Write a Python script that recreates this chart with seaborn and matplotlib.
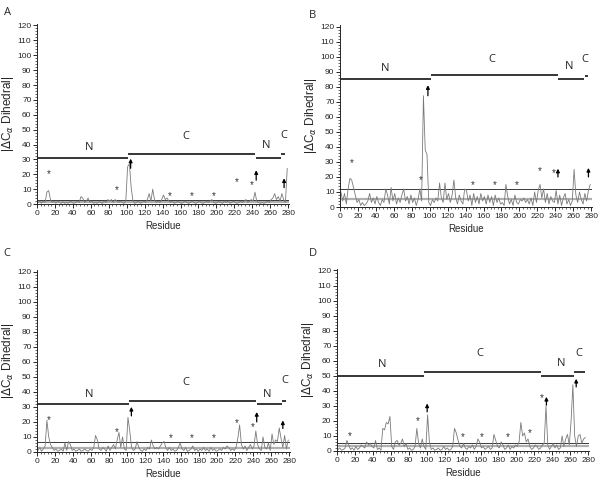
import numpy as np
import pandas as pd
import matplotlib
matplotlib.use("Agg")
import matplotlib.pyplot as plt
import seaborn as sns
from matplotlib.ticker import MultipleLocator

sns.set_style("ticks")
plt.rcParams['font.family'] = ['Liberation Sans', 'DejaVu Sans']

residues = list(range(1, 280, 2))

vals_a = [1, 2, 0.5, 2, 1, 8, 9, 3, 1, 2, 0.5, 2, 1, 0.5, 1.5, 0.5, 1, 0.5, 2, 1,
          0.5, 1, 2, 1, 5, 4, 1, 2, 4, 1, 2, 0.5, 1, 0.5, 1.5, 1, 0.5, 2, 1, 3,
          2, 3, 1, 3, 2, 1, 2, 1, 0.5, 2, 25, 27, 11, 2, 0.5, 1, 2, 0.5, 1, 2,
          1, 3, 7, 2, 10, 3, 1, 2, 1, 3, 6, 3, 4, 2, 1, 2, 0.5, 1, 2, 1,
          0.5, 1, 2, 1, 0.5, 1, 2, 1, 0.5, 1, 2, 1, 0.5, 1, 2, 1, 2, 3, 1, 0.5,
          1, 2, 1, 0.5, 2, 1, 2, 0.5, 1, 2, 1, 0.5, 1, 2, 1, 2, 3, 1, 2, 3,
          2, 8, 2, 1, 0.5, 1, 0.5, 1, 2, 1, 3, 4, 7, 3, 5, 2, 7, 3, 1, 24]

vals_b = [10, 4, 9, 2, 12, 19, 18, 13, 8, 3, 5, 1, 3, 1, 2, 4, 9, 3, 6, 2,
          7, 3, 1, 5, 3, 12, 8, 2, 13, 4, 9, 2, 6, 3, 8, 12, 4, 7, 2, 8,
          3, 6, 1, 5, 12, 4, 74, 38, 35, 3, 1, 5, 3, 6, 4, 16, 6, 3, 16, 5,
          9, 3, 8, 18, 6, 2, 8, 4, 2, 12, 11, 4, 8, 1, 9, 3, 7, 2, 9, 4,
          7, 2, 8, 3, 7, 1, 8, 3, 6, 2, 3, 1, 15, 7, 2, 5, 1, 8, 3, 2,
          5, 4, 6, 3, 5, 2, 6, 1, 10, 3, 11, 15, 6, 12, 3, 9, 2, 7, 4, 3,
          11, 2, 8, 1, 6, 9, 2, 5, 1, 4, 25, 8, 3, 10, 5, 2, 9, 4, 11, 15]

vals_c = [1, 3, 0.5, 2, 4, 21, 10, 5, 3, 1, 2, 0.5, 1, 2, 0.5, 6, 1, 7, 5, 1,
          2, 0.5, 1, 2, 0.5, 1, 2, 1, 0.5, 2, 1, 3, 11, 8, 2, 1, 3, 2, 0.5, 4,
          1, 3, 5, 2, 8, 13, 3, 10, 2, 1, 23, 14, 3, 1, 2, 7, 3, 1, 0.5, 2,
          1, 3, 2, 8, 4, 2, 3, 2, 4, 6, 7, 3, 1, 3, 1, 2, 0.5, 1, 3, 6,
          2, 1, 3, 0.5, 1, 2, 4, 1, 2, 0.5, 2, 1, 3, 1, 2, 0.5, 3, 1, 2, 0.5,
          1, 2, 1, 3, 2, 4, 3, 1, 2, 1, 3, 9, 18, 5, 2, 4, 1, 3, 5, 2,
          4, 14, 5, 2, 1, 10, 3, 2, 6, 1, 12, 5, 8, 7, 16, 9, 3, 11, 2, 8]

vals_d = [1, 2, 0.5, 1, 2, 7, 4, 1, 2, 0.5, 3, 1, 2, 4, 3, 2, 6, 4, 5, 3,
          2, 7, 1, 2, 0.5, 15, 14, 19, 18, 23, 3, 1, 6, 7, 4, 5, 8, 3, 5, 1,
          2, 0.5, 1, 3, 15, 5, 2, 8, 3, 1, 24, 6, 1, 2, 0.5, 1, 2, 0.5, 1, 3,
          1, 2, 0.5, 1, 3, 15, 12, 7, 3, 2, 5, 2, 1, 3, 2, 4, 1, 3, 8, 6,
          2, 3, 1, 2, 3, 1, 2, 11, 7, 3, 2, 6, 4, 1, 2, 4, 1, 3, 2, 4,
          3, 6, 19, 10, 12, 6, 8, 3, 1, 2, 4, 3, 1, 2, 4, 5, 30, 4, 1, 3,
          5, 2, 4, 1, 2, 10, 3, 8, 11, 4, 20, 44, 10, 3, 10, 11, 5, 8, 9]

panels = ["A", "B", "C", "D"]
series = [vals_a, vals_b, vals_c, vals_d]

# mean / threshold lines
thr_dark = [2.6, 12.3, 6.8, 5.3]
thr_light = [1.4, 5.5, 2.8, 3.6]

# domain bars: (start, end, level)
dom_bars = [
    [(0, 102, 31), (102, 243, 33.6), (244, 272, 31), (272.6, 276.7, 33.6)],
    [(0, 102, 85.3), (102, 243, 87.5), (243.5, 272, 85), (273.7, 276.5, 86.8)],
    [(0, 102, 31.6), (102, 243, 33.8), (244, 272, 31.6), (272.5, 276.5, 33.8)],
    [(0, 97, 49.9), (97, 227, 52.2), (227, 264, 49.7), (264.5, 276, 52.2)],
]
dom_names = ["N", "C", "N", "C"]
dom_label_pos = [
    [(58, 38), (165.5, 45.5), (255, 39), (275.5, 46)],
    [(50, 92.3), (169, 97.8), (255, 93.4), (273, 97.8)],
    [(58, 38), (165.5, 46.4), (256, 38.5), (275, 47.5)],
    [(50, 57.5), (159, 64.6), (250, 58), (270, 64.6)],
]
stars = [
    [(13, 20), (89, 9.5), (148, 5.3), (172, 5.3), (197, 5.3), (223, 15), (240, 12.7)],
    [(13, 29), (89.5, 18.2), (148, 14.7), (172, 14.7), (197, 14.7), (222.6, 24.2), (237.8, 22.6)],
    [(13.3, 21.5), (89, 13), (148, 9.5), (171.5, 9.5), (196, 9.5), (222, 19.3), (240, 16.3)],
    [(13.7, 9.7), (90.5, 19.6), (140, 9), (161, 9), (190, 9), (215, 11.9), (228, 35.4)],
]
arrows = [
    [(104.4, 24, 30.5), (244.4, 16, 22.7), (275.5, 11, 17.3)],
    [(98, 74, 81), (243, 20, 25.5), (277, 20, 26)],
    [(104.8, 24, 30), (244, 20, 26.6), (273, 15.6, 21)],
    [(100.5, 26, 31.6), (233.5, 30.5, 36), (266.7, 42.6, 48)],
]

fig = plt.figure(figsize=(6.0, 4.83), dpi=100)
rects = [
    [0.0617, 0.5776, 0.42, 0.3727],
    [0.5667, 0.5714, 0.42, 0.3768],
    [0.0617, 0.0642, 0.4217, 0.3768],
    [0.5617, 0.0663, 0.42, 0.3768],
]
letter_pos = [(0.006, 0.975), (0.515, 0.968), (0.006, 0.476), (0.515, 0.476)]

for i in range(4):
    ax = fig.add_axes(rects[i])
    df = pd.DataFrame({"Residue": residues[:len(series[i])], "val": series[i]})
    ax.axhline(thr_light[i], color="#b0b0b0", lw=1.6, zorder=1)
    ax.axhline(thr_dark[i], color="#3a3a3a", lw=0.7, zorder=1)
    sns.lineplot(data=df, x="Residue", y="val", ax=ax, color="#7a7a7a",
                 linewidth=0.6, estimator=None, zorder=2)
    for (s, e, lvl), (lx, ly), nm in zip(dom_bars[i], dom_label_pos[i], dom_names):
        ax.plot([s, e], [lvl, lvl], color="black", lw=1.1, solid_capstyle="butt")
        ax.text(lx, ly, nm, ha="center", va="center", fontsize=8,
                family=["Open Sans", "DejaVu Sans"])
    for sx, sy in stars[i]:
        ax.text(sx, sy, "*", ha="center", va="center", fontsize=7, color="#333333")
    for ax_x, y0, y1 in arrows[i]:
        ax.annotate("", xy=(ax_x, y1), xytext=(ax_x, y0),
                    arrowprops=dict(arrowstyle="-|>", color="black", lw=0.9,
                                    mutation_scale=5, shrinkA=0, shrinkB=0))
    ax.set_xlim(0, 281)
    ax.set_ylim(0, 121)
    ax.xaxis.set_major_locator(MultipleLocator(20))
    ax.xaxis.set_minor_locator(MultipleLocator(4))
    ax.yaxis.set_major_locator(MultipleLocator(10))
    ax.yaxis.set_minor_locator(MultipleLocator(2))
    ax.tick_params(axis="both", which="major", labelsize=6, length=3, width=0.7, pad=1)
    ax.tick_params(axis="both", which="minor", length=1.5, width=0.5)
    ax.set_xlabel("Residue", fontsize=7, labelpad=3)
    ax.set_ylabel(r"|$\Delta$C$_\alpha$ Dihedral|", fontsize=8.5, labelpad=1)
    sns.despine(ax=ax)
    for sp in ax.spines.values():
        sp.set_linewidth(0.7)
    fig.text(letter_pos[i][0], letter_pos[i][1], panels[i], fontsize=8,
             ha="left", va="center", family=["Open Sans", "DejaVu Sans"])

fig.savefig("out.png", dpi=100)
